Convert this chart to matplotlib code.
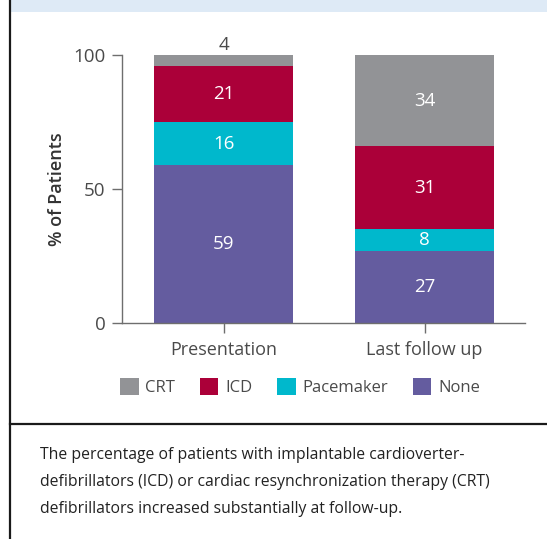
import matplotlib
matplotlib.use("Agg")
import matplotlib.pyplot as plt
from matplotlib.patches import Rectangle
from matplotlib.lines import Line2D
import numpy as np

plt.rcParams['font.family'] = ['Open Sans', 'DejaVu Sans']

# Data: percentage of patients by device type
timepoints = ["Presentation", "Last follow up"]
none_pct = [59, 27]
pacemaker_pct = [16, 8]
icd_pct = [21, 31]
crt_pct = [4, 34]

series = [("None", none_pct, "#645c9f"),
          ("Pacemaker", pacemaker_pct, "#00b8cc"),
          ("ICD", icd_pct, "#ab0039"),
          ("CRT", crt_pct, "#929396")]

caption_lines = [
    "The percentage of patients with implantable cardioverter-",
    "defibrillators (ICD) or cardiac resynchronization therapy (CRT)",
    "defibrillators increased substantially at follow-up.",
]

W, H = 547, 539
fig = plt.figure(figsize=(W / 100, H / 100), dpi=100)
fig.patch.set_facecolor("white")

text_col = "#4a4a4a"
axis_col = "#6e6e6e"

# Frame decorations: top band, left rule and separator line
fig.add_artist(Rectangle((11 / W, 1 - 12 / H), 1, 12 / H, transform=fig.transFigure,
                         facecolor="#deeaf6", edgecolor="none"))
fig.add_artist(Line2D([10 / W, 10 / W], [0, 1], transform=fig.transFigure,
                      color="#1a1a1a", lw=1.6))
fig.add_artist(Line2D([10 / W, 1], [1 - 424 / H, 1 - 424 / H], transform=fig.transFigure,
                      color="#1a1a1a", lw=1.6))

# Main axes
x0, x1 = 122, 525
y_top, y_bot = 55, 323.3
ax = fig.add_axes([x0 / W, 1 - y_bot / H, (x1 - x0) / W, (y_bot - y_top) / H])

x = np.arange(len(timepoints))
bottom = np.zeros(len(timepoints))
containers = {}
for name, vals, col in series:
    vals = np.array(vals, dtype=float)
    bars = ax.bar(x, vals, width=0.69, bottom=bottom, color=col, label=name,
                  edgecolor="none", zorder=2)
    containers[name] = (bars, vals, bottom.copy())
    bottom += vals

# Value labels: inside the segment in white, above the stack when too thin
for name, (bars, vals, base) in containers.items():
    for xi, v, b in zip(x, vals, base):
        if v >= 6:
            ax.text(xi, b + v / 2, f"{v:g}", ha="center", va="center",
                    color="white", fontsize=13.5)
        else:
            ax.annotate(f"{v:g}", (xi, b + v), xytext=(0, 1), textcoords="offset points",
                        ha="center", va="bottom", color=text_col, fontsize=13.5)

ax.set_xlim(-0.505, 1.5)
ax.set_ylim(0, 100)
ax.set_yticks([0, 50, 100])
ax.set_xticks(x)
ax.set_xticklabels(timepoints)
for s in ["top", "right"]:
    ax.spines[s].set_visible(False)
for s in ["left", "bottom"]:
    ax.spines[s].set_color(axis_col)
    ax.spines[s].set_linewidth(1.0)
ax.tick_params(axis="both", colors=axis_col, labelcolor=text_col, labelsize=13.5,
               length=7, width=1.0)
ax.tick_params(axis="x", pad=6, labelsize=13)
ax.tick_params(axis="y", pad=5)
ax.set_ylabel("% of Patients", fontsize=13, color="#333333", fontweight="semibold",
              labelpad=5)

# Legend in CRT, ICD, Pacemaker, None order
order = ["CRT", "ICD", "Pacemaker", "None"]
handles = [containers[n][0] for n in order]
leg = fig.legend(handles, order, loc="center", ncol=4,
                 bbox_to_anchor=(300 / W, 1 - 387 / H), frameon=False,
                 fontsize=12, handlelength=1.1, handleheight=1.15,
                 handletextpad=0.4, columnspacing=1.5, labelcolor=text_col)

# Caption
for i, line in enumerate(caption_lines):
    fig.text(40 / W, 1 - (455 + 27 * i) / H, line, ha="left", va="center",
             fontsize=11.3, color="#222222")

fig.savefig("out.png", dpi=100)
